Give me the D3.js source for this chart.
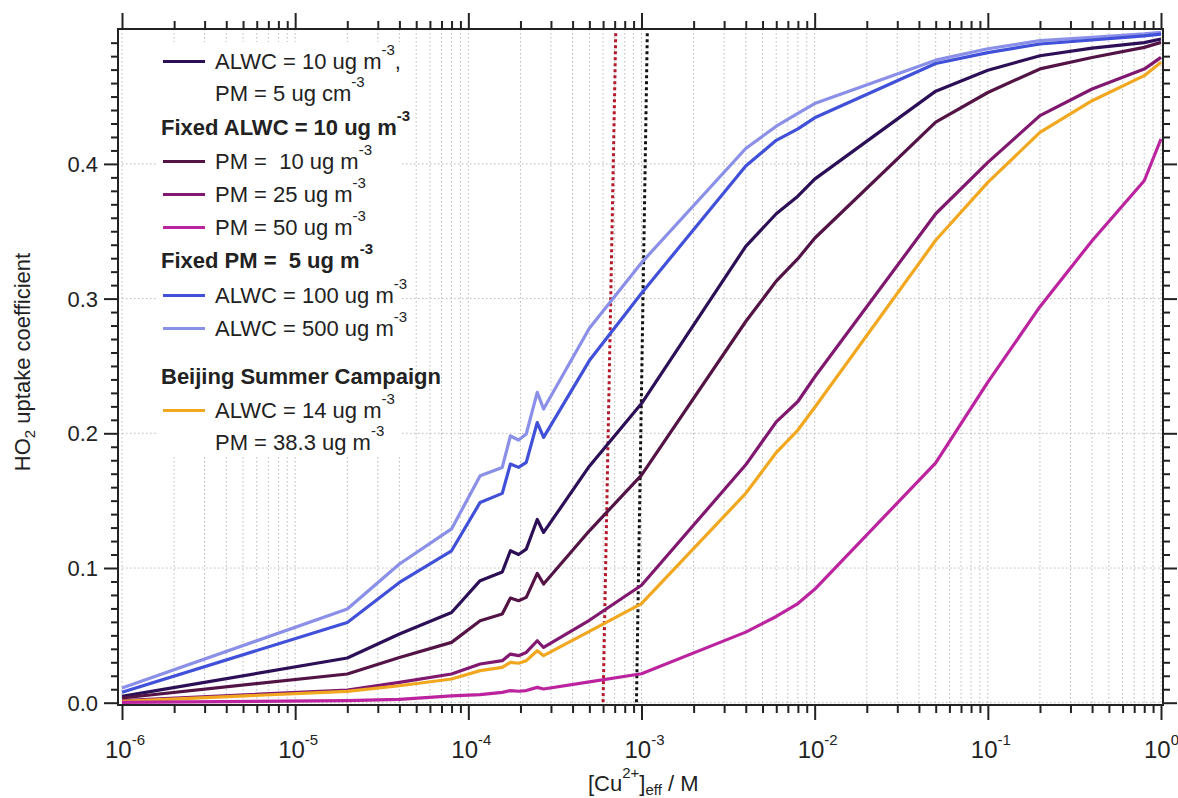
<!DOCTYPE html>
<html>
<head>
<meta charset="utf-8">
<script src="https://cdn.jsdelivr.net/npm/d3@7"></script>
<style>
  html, body { margin: 0; padding: 0; background: #fff; }
  svg { display: block; font-family: "Liberation Sans", Arial, Helvetica, sans-serif; }
  text { white-space: pre; }
</style>
</head>
<body>
<svg id="chart" width="1178" height="798"></svg>
<script>
// Effective Cu2+ concentration (M) at which the uptake coefficient was computed
const cuConc = [1e-6, 2e-5, 4e-5, 8e-5, 1.17e-4, 1.57e-4, 1.75e-4, 1.95e-4, 2.16e-4, 2.5e-4, 2.72e-4,
                5e-4, 1e-3, 4e-3, 6e-3, 8e-3, 1e-2, 5e-2, 1e-1, 2e-1, 4e-1, 8e-1, 1];

// HO2 uptake coefficient for each scenario
const alwc10pm5 = [0.0047, 0.0332, 0.051, 0.067, 0.0906, 0.097, 0.1128, 0.110, 0.114, 0.136, 0.1264,
                   0.1756, 0.2221, 0.3388, 0.363, 0.376, 0.3887, 0.454, 0.4695, 0.4803, 0.486, 0.490, 0.4927];
const pm10 = [0.0035, 0.0213, 0.0336, 0.0448, 0.0609, 0.0658, 0.0777, 0.0757, 0.0782, 0.096, 0.0881,
              0.1276, 0.169, 0.283, 0.313, 0.3296, 0.3448, 0.431, 0.453, 0.4705, 0.479, 0.4865, 0.4902];
const pm25 = [0.0015, 0.0094, 0.0151, 0.0213, 0.0287, 0.0312, 0.0361, 0.0349, 0.0373, 0.046, 0.041,
              0.0612, 0.0872, 0.1766, 0.2085, 0.2236, 0.2418, 0.363, 0.4011, 0.4358, 0.4556, 0.4704, 0.4791];
const pm50 = [0.0003, 0.0015, 0.0025, 0.005, 0.006, 0.0077, 0.009, 0.0085, 0.009, 0.0114, 0.0102,
              0.0155, 0.0215, 0.0524, 0.064, 0.0736, 0.0842, 0.178, 0.238, 0.294, 0.343, 0.3875, 0.4185];
const alwc100 = [0.0077, 0.0596, 0.0893, 0.1128, 0.1487, 0.1554, 0.1772, 0.1747, 0.1784, 0.208, 0.197,
                 0.254, 0.304, 0.3984, 0.4175, 0.426, 0.4342, 0.4745, 0.4826, 0.489, 0.492, 0.495, 0.4963];
const alwc500 = [0.0109, 0.0696, 0.103, 0.129, 0.1685, 0.1747, 0.198, 0.195, 0.1995, 0.2304, 0.218,
                 0.278, 0.3267, 0.4114, 0.428, 0.4375, 0.4448, 0.477, 0.4855, 0.4915, 0.494, 0.4965, 0.4976];
const beijing = [0.0010, 0.0084, 0.0126, 0.0176, 0.0238, 0.0262, 0.0299, 0.0293, 0.0312, 0.0386, 0.0349,
                 0.0529, 0.0736, 0.1554, 0.1857, 0.2024, 0.2191, 0.3433, 0.3863, 0.4234, 0.4469, 0.4655, 0.4754];

// Reference concentrations (dotted verticals): value at the top and at the bottom of the plot
const refTopConc = [7.1e-4, 1.08e-3];
const refBottomConc = [6.0e-4, 0.935e-3];

// Tick labels
const xTickExponents = ["-6", "-5", "-4", "-3", "-2", "-1", "0"];
const yTickLabels = ["0.0", "0.1", "0.2", "0.3", "0.4"];

const svg = d3.select("#chart");
const frameL = 118, frameR = 1163, frameT = 29, frameB = 705;

const x = d3.scaleLog().domain([1e-6, 1]).range([122, 1161]);
const y = d3.scaleLinear().domain([0, 0.5]).range([702.7, 29.2]);

const decades = xTickExponents.map(e => Math.pow(10, +e));
const minorX = [];
decades.slice(0, -1).forEach(d => { for (let k = 2; k <= 9; k++) minorX.push(d * k); });
const majorY = yTickLabels.map(Number);
const minorY = d3.range(0, 50).map(i => i / 100).filter((v, i) => i % 10 !== 0);

// Dotted grid
const grid = svg.append("g").attr("stroke", "#b8b8b8").attr("stroke-width", 1)
  .attr("stroke-dasharray", "1.5,2.5");
grid.selectAll("line.v").data(decades.concat(minorX)).join("line").attr("class", "v")
  .attr("x1", d => x(d)).attr("x2", d => x(d)).attr("y1", frameT).attr("y2", frameB);
grid.selectAll("line.h").data(majorY).join("line").attr("class", "h")
  .attr("x1", frameL).attr("x2", frameR).attr("y1", d => y(d)).attr("y2", d => y(d));

// Reference concentration lines
const refColors = ["#b3192a", "#111111"];
svg.append("g").selectAll("line").data(refTopConc).join("line")
  .attr("x1", d => x(d)).attr("y1", y(0.497))
  .attr("x2", (d, i) => x(refBottomConc[i])).attr("y2", y(0))
  .attr("stroke", (d, i) => refColors[i]).attr("stroke-width", 3)
  .attr("stroke-dasharray", "3,3");

// Curves
const series = [
  { values: alwc500, color: "#8a8fe8" },
  { values: alwc100, color: "#4150d8" },
  { values: alwc10pm5, color: "#2c0f56" },
  { values: pm10, color: "#531445" },
  { values: pm25, color: "#81186f" },
  { values: beijing, color: "#f1a820" },
  { values: pm50, color: "#bb239f" }
];
const line = d3.line().x(d => x(d[0])).y(d => y(d[1]));
svg.append("g").selectAll("path").data(series).join("path")
  .attr("d", s => line(cuConc.map((c, i) => [c, s.values[i]])))
  .attr("fill", "none").attr("stroke", s => s.color)
  .attr("stroke-width", 3.2).attr("stroke-linejoin", "round");

// Axes frame and ticks
const axisColor = "#222";
function styleAxis(g) {
  g.select(".domain").remove();
  g.selectAll("line").attr("stroke", axisColor).attr("stroke-width", 2);
  g.selectAll("text").remove();
}
svg.append("g").attr("transform", `translate(0,${frameB})`)
  .call(d3.axisBottom(x).tickValues(decades).tickSize(15)).call(styleAxis);
svg.append("g").attr("transform", `translate(0,${frameB})`)
  .call(d3.axisBottom(x).tickValues(minorX).tickSize(8)).call(styleAxis);
svg.append("g").attr("transform", `translate(0,${frameT})`)
  .call(d3.axisTop(x).tickValues(decades).tickSize(16)).call(styleAxis);
svg.append("g").attr("transform", `translate(0,${frameT})`)
  .call(d3.axisTop(x).tickValues(minorX).tickSize(8)).call(styleAxis);
svg.append("g").attr("transform", `translate(${frameL},0)`)
  .call(d3.axisLeft(y).tickValues(majorY).tickSize(14)).call(styleAxis);
svg.append("g").attr("transform", `translate(${frameL},0)`)
  .call(d3.axisLeft(y).tickValues(minorY).tickSize(7)).call(styleAxis);
svg.append("g").attr("transform", `translate(${frameR},0)`)
  .call(d3.axisRight(y).tickValues(majorY).tickSize(14)).call(styleAxis);
svg.append("g").attr("transform", `translate(${frameR},0)`)
  .call(d3.axisRight(y).tickValues(minorY).tickSize(7)).call(styleAxis);

svg.append("rect").attr("x", frameL).attr("y", frameT)
  .attr("width", frameR - frameL).attr("height", frameB - frameT)
  .attr("fill", "none").attr("stroke", axisColor).attr("stroke-width", 2);

// Tick labels
const xl = svg.append("g").attr("fill", "#222");
decades.forEach((d, i) => {
  const t = xl.append("text").attr("x", x(d) - 17).attr("y", 758).attr("font-size", 24);
  t.append("tspan").text("10");
  t.append("tspan").attr("font-size", 15).attr("dy", -13).text(xTickExponents[i]);
});
svg.append("g").selectAll("text").data(yTickLabels).join("text")
  .attr("x", 98).attr("y", d => y(+d) + 8).attr("text-anchor", "end")
  .attr("font-size", 22).attr("fill", "#222").text(d => d);

// Axis titles
const xt = svg.append("text").attr("x", 588).attr("y", 791).attr("font-size", 22).attr("fill", "#222");
xt.append("tspan").text("[Cu");
xt.append("tspan").attr("font-size", 15).attr("dy", -13).text("2+");
xt.append("tspan").text("]").attr("dy", 13);
xt.append("tspan").attr("font-size", 15).attr("dy", 4).text("eff");
xt.append("tspan").attr("dy", -4).text(" / M");

const yt = svg.append("text").attr("transform", "translate(30,362) rotate(-90)")
  .attr("text-anchor", "middle").attr("font-size", 22).attr("fill", "#222");
yt.append("tspan").text("HO");
yt.append("tspan").attr("font-size", 15).attr("dy", 5).text("2");
yt.append("tspan").attr("dy", -5).text(" uptake coefficient");

// Legend
const legend = svg.append("g");
legend.append("rect").attr("x", 158).attr("y", 42).attr("width", 244).attr("height", 413)
  .attr("fill", "#fff");

function richText(g, px, py, parts, bold) {
  const t = g.append("text").attr("x", px).attr("y", py).attr("font-size", 22)
    .attr("fill", "#222").attr("font-weight", bold ? "bold" : "normal");
  let shift = 0;
  parts.forEach(p => {
    if (p.sup) {
      t.append("tspan").attr("font-size", 15).attr("dy", -14 - shift).text(p.sup);
      shift = -14;
    } else {
      t.append("tspan").attr("dy", -shift).text(p.t);
      shift = 0;
    }
  });
}
const legendRows = [
  { color: "#2c0f56", parts: [{ t: "ALWC = 10 ug m" }, { sup: "-3" }, { t: "," }], baseline: 69 },
  { parts: [{ t: "PM = 5 ug cm" }, { sup: "-3" }], baseline: 101 },
  { bold: true, parts: [{ t: "Fixed ALWC = 10 ug m" }, { sup: "-3" }], baseline: 135 },
  { color: "#531445", parts: [{ t: "PM =  10 ug m" }, { sup: "-3" }], baseline: 169 },
  { color: "#81186f", parts: [{ t: "PM = 25 ug m" }, { sup: "-3" }], baseline: 202 },
  { color: "#bb239f", parts: [{ t: "PM = 50 ug m" }, { sup: "-3" }], baseline: 235 },
  { bold: true, parts: [{ t: "Fixed PM =  5 ug m" }, { sup: "-3" }], baseline: 268 },
  { color: "#4150d8", parts: [{ t: "ALWC = 100 ug m" }, { sup: "-3" }], baseline: 303 },
  { color: "#8a8fe8", parts: [{ t: "ALWC = 500 ug m" }, { sup: "-3" }], baseline: 336 },
  { bold: true, parts: [{ t: "Beijing Summer Campaign" }], baseline: 384 },
  { color: "#f1a820", parts: [{ t: "ALWC = 14 ug m" }, { sup: "-3" }], baseline: 418 },
  { parts: [{ t: "PM = 38.3 ug m" }, { sup: "-3" }], baseline: 450 }
];
legendRows.forEach(r => {
  if (r.color) {
    legend.append("line").attr("x1", 163).attr("x2", 205)
      .attr("y1", r.baseline - 7.5).attr("y2", r.baseline - 7.5)
      .attr("stroke", r.color).attr("stroke-width", 3.2);
  }
  richText(legend, r.bold ? 161 : 215, r.baseline, r.parts, r.bold);
});
</script>
</body>
</html>
